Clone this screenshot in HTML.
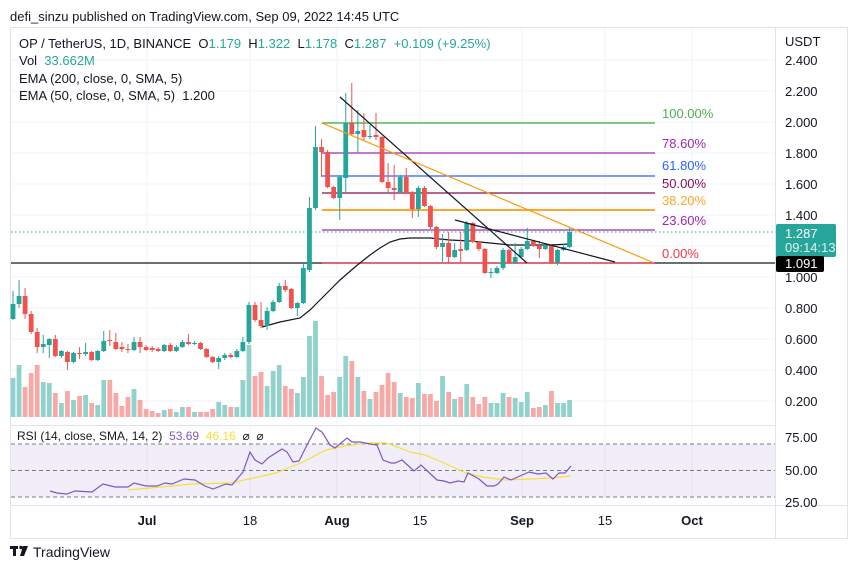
<!DOCTYPE html>
<html><head><meta charset="utf-8"><style>
body{margin:0;background:#fff;width:860px;height:569px;overflow:hidden;font-family:"Liberation Sans",sans-serif;}
svg text{font-family:"Liberation Sans",sans-serif;}
</style></head><body>
<svg id="s" width="860" height="569" xmlns="http://www.w3.org/2000/svg"></svg>
<script>
const s=document.getElementById('s');let h='';
const G='#26a69a',R='#ef5350';
function L(x1,y1,x2,y2,c,w,d){h+=`<line x1="${x1}" y1="${y1}" x2="${x2}" y2="${y2}" stroke="${c}" stroke-width="${w||1}" ${d?`stroke-dasharray="${d}"`:''}/>`;}
function T(x,y,t,c,sz,extra){h+=`<text x="${x}" y="${y}" fill="${c||'#131722'}" font-size="${sz||13}" ${extra||''}>${t}</text>`;}
h+=`<rect x="10.5" y="27.5" width="837" height="511" fill="none" stroke="#e0e3eb"/>`;
L(775.5,27,775.5,538,'#e0e3eb');
L(10,505.5,848,505.5,'#e0e3eb');L(10,425.5,775,425.5,'#e0e3eb');
const vg=[147,250,337,420,522,605,692];vg.forEach(x=>L(x,28,x,505,'#f0f3fa'));
const py=p=>277-(p-1)*155;
for(let p=0.2;p<2.41;p+=0.2){const y=py(p);L(11,y,775,y,'#f0f3fa');T(785,y+5,p.toFixed(3),'#131722',13);}
T(785,46,'USDT','#131722',13);
h+=`<rect x="11" y="444" width="764" height="53" fill="#7e57c2" fill-opacity="0.1"/>`;
[444,470.5,497].forEach(y=>L(11,y,775,y,'#787b86',1,'4 3'));
T(785,442,'75.00');T(785,475,'50.00');T(785,507,'25.00');
const fib=[[123,'#81c784','100.00%',113],[153,'#9c27b0','78.60%',143],[176,'#2962ff','61.80%',165],[193,'#880e4f','50.00%',183],[210,'#ffa726','38.20%',200],[230,'#9c27b0','23.60%',220],[263,'#f23645','0.00%',253]];
L(11,263,775,263,'#131722',1.3);
fib.forEach(f=>{L(322,f[0],655,f[0],f[1],f[0]==123||f[0]==210?2:1.3);T(662,f[3]+5,f[2],f[1]=='#81c784'?'#4caf50':f[1],13);});
L(11,232,775,232,G,1,'1.5 2.5');
const vt=[378,365,387,373,365,382,383,393,403,391,400,396,395,403,405,380,380,393,406,397,389,400,409,411,413,410,409,412,407,407,412,412,412,409,402,405,407,407,380,345,376,372,386,371,365,386,389,393,377,336,321,
376,395,392,377,356,361,377,391,399,392,385,373,382,393,397,398,383,394,394,401,376,392,399,397,384,397,404,397,403,403,393,397,398,402,392,408,407,405,391,403,403,400];
const C=["g,304,319,291,320","g,296,304,280,308","r,296,314,288,319","r,314,332,311,334","r,332,347,328,353","g,344,347,335,353","g,339,345,338,358","r,339,356,335,357","g,351,356,350,358","r,352,362,351,370","g,353,362,352,363","r,353,354,347,359","g,352,354,343,356","r,352,360,351,361","g,351,360,350,361","g,341,351,331,352","r,340,341,330,346","r,342,349,333,350","r,347,349,342,352","r,349,350,344,353","g,342,350,337,351","r,342,347,337,353","r,347,350,345,351","r,348,350,346,352","r,349,351,347,352","g,345,351,344,352","r,345,351,343,352","g,347,351,345,352","g,342,347,340,348","r,342,344,334,345","g,343,344,341,345","r,343,349,342,350","r,349,357,348,358","r,357,362,356,363","g,358,362,356,369","g,355,358,353,360","r,355,357,353,358","g,351,357,349,358","g,342,351,337,352","g,305,342,302,344","r,305,320,302,322","r,320,326,302,328","g,311,326,307,330","g,302,311,300,312","g,286,302,283,303","r,286,290,280,292","r,289,308,288,309","g,303,308,302,316","g,268,303,263,304","g,208,270,197,272","g,147,208,126,210","r,147,152,139,177","r,152,187,150,188","r,187,198,186,199","g,177,198,175,220","g,123,178,93,192","r,123,134,83,136","g,131,134,110,153","r,130,137,113,140","g,136,137,125,139","r,135,137,113,140","r,137,182,136,183","r,182,188,163,192","r,188,190,165,200","g,177,192,175,193","r,177,193,168,194","r,193,209,191,218","g,188,209,186,217","r,188,206,186,207","r,206,227,205,229","r,227,247,226,249","g,243,247,234,262","r,243,257,232,263","g,250,257,243,258","r,249,251,232,263","g,223,250,221,251","r,223,242,222,243","r,242,249,241,251","r,249,273,248,274","g,272,273,268,278","g,268,273,266,274","g,250,268,248,270","r,250,263,249,264","g,257,263,243,264","g,249,257,247,258","g,241,249,228,250","r,241,246,240,247","r,246,249,241,258","g,245,249,243,250","r,245,263,244,264","g,250,263,249,265","g,247,250,244,251","g,232,247,227,248"];
C.forEach((c,i)=>{const a=c.split(',');const x=13+i*6.05;const g=a[0]=='g';
const v=vt[i];h+=`<rect x="${x-2.4}" y="${v}" width="4.8" height="${417-v}" fill="${g?'#92d2cc':'#f7a9a7'}"/>`;
});
h+=`<polyline fill="none" stroke="#131722" stroke-width="1.2" points="262,327 280,322 300,318 310,310 320,300 330,290 340,280 355,267 370,255 380,248 390,242 400,239 410,238 430,238 450,240 470,241 490,243 510,245 530,245 550,245 570,244"/>`;
C.forEach((c,i)=>{const a=c.split(',').map((v,j)=>j?+v:v);const x=13+i*6.05;const col=a[0]=='g'?G:R;
L(x,a[3],x,a[4],col,1);h+=`<rect x="${x-2.4}" y="${a[1]}" width="4.8" height="${Math.max(1,a[2]-a[1])}" fill="${col}"/>`;});
L(340,97,527,263,'#131722',1.2);L(455,220,615,262,'#131722',1.2);L(322,123,652,262,'#ff9800',1.2);
h+=`<polyline fill="none" stroke="#f5e03b" stroke-width="1.2" points="128,490 172,486 192,484 230,483 249,479 276,473 303,462 326,450 345,446 368,443 387,443 410,452 425,455 444,463 466,473 483,477 506,480 529,479 552,478 571,476"/>`;
h+=`<polyline fill="none" stroke="#7e57c2" stroke-width="1.2" points="50,491 57,493 67,494 75,491 92,492 103,484 115,487 128,487 134,483 146,486 157,486 165,483 172,484 184,479 195,480 205,486 213,489 226,484 232,485 243,472 250,452 255,460 262,464 268,458 282,449 287,452 293,462 299,461 307,445 316,428 322,432 330,445 335,448 347,438 352,442 360,442 370,444 377,445 383,460 391,463 395,463 402,460 414,471 421,465 437,480 444,481 450,483 458,481 464,482 468,473 479,479 487,486 494,486 498,484 504,477 511,480 529,472 538,474 546,473 553,479 559,473 565,473 571,466"/>`;
h+=`<rect x="776" y="224" width="60" height="33" rx="2" fill="${G}"/>`;T(785,238,'1.287','#fff',13);T(785,252,'09:14:13','#e0f2f1',13);
h+=`<rect x="776" y="256" width="48" height="16" rx="2" fill="#000"/>`;T(785,268,'1.091','#fff',13);
T(10,21,'defi_sinzu published on TradingView.com, Sep 09, 2022 14:45 UTC','#131722',13);
h+=`<text x="19" y="48" font-size="13" fill="#131722">OP / TetherUS, 1D, BINANCE&#160; O<tspan fill="${G}">1.179</tspan>&#160; H<tspan fill="${G}">1.322</tspan>&#160; L<tspan fill="${G}">1.178</tspan>&#160; C<tspan fill="${G}">1.287</tspan>&#160; <tspan fill="${G}">+0.109 (+9.25%)</tspan></text>`;
h+=`<text x="19" y="65" font-size="13" fill="#131722">Vol&#160; <tspan fill="${G}">33.662M</tspan></text>`;
T(19,83,'EMA (200, close, 0, SMA, 5)');T(19,100,'EMA (50, close, 0, SMA, 5)&#160; 1.200');
h+=`<text x="17" y="440" font-size="12" fill="#131722">RSI (14, close, SMA, 14, 2)&#160; <tspan fill="#7e57c2">53.69</tspan>&#160; <tspan fill="#f5e03b">46.16</tspan>&#160; ⌀&#160; ⌀</text>`;
[[147,'Jul',1],[250,'18'],[337,'Aug',1],[420,'15'],[522,'Sep',1],[605,'15'],[692,'Oct',1]].forEach(d=>T(d[0],525,d[1],'#131722',13,`text-anchor="middle" ${d[2]?'font-weight="bold"':''}`));
h+=`<rect x="10" y="546" width="8" height="3" fill="#131722"/><rect x="13" y="546" width="3" height="10" fill="#131722"/><circle cx="21" cy="547.5" r="1.7" fill="#131722"/><polygon points="23,546 28,546 24,556 20,556" fill="#131722"/>`;
T(33,557,'TradingView','#131722',14);
s.innerHTML=h;
</script>
</body></html>
